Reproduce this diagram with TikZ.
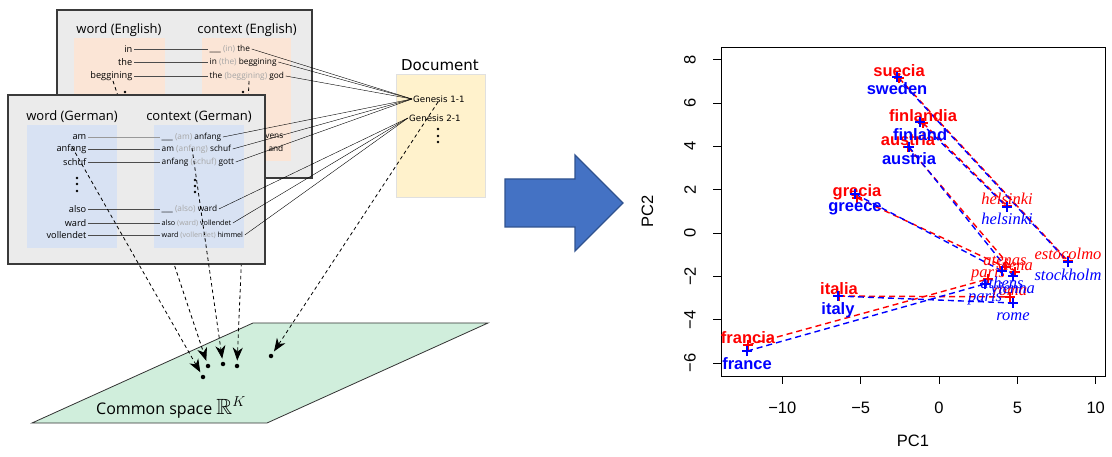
\documentclass[tikz,border=0pt]{standalone}
\usepackage{fontspec}
\usepackage{amssymb}
\usetikzlibrary{arrows.meta}
\newfontfamily\osans{Open Sans}
\newfontfamily\dvsans{DejaVu Sans}
\newfontfamily\lsans{Liberation Sans}
\newfontfamily\lserif{Liberation Serif}

\definecolor{boxgray}{HTML}{EBEBEB}
\definecolor{boxedge}{HTML}{3A3A3A}
\definecolor{engfill}{HTML}{FBE5D6}
\definecolor{gerfill}{HTML}{D8E2F3}
\definecolor{docfill}{HTML}{FFF2CC}
\definecolor{spacefill}{HTML}{D0EEDC}
\definecolor{ctxgray}{HTML}{A6A6A6}
\definecolor{arrowblue}{HTML}{4472C4}
\definecolor{arrowedge}{HTML}{2F528F}
\definecolor{rred}{HTML}{FF0000}
\definecolor{rblue}{HTML}{0000FF}

\newcommand\gry[1]{{\color{ctxgray}#1}}

\tikzset{
  panel/.style={draw=boxedge, line width=1.6pt, fill=boxgray},
  title/.style={font=\osans\fontsize{13}{15}\selectfont, inner sep=0pt},
  wordtxt/.style={font=\osans\fontsize{9.2}{11}\selectfont, anchor=east, inner sep=1.5pt},
  ctxtxt/.style={font=\osans\fontsize{8.3}{10}\selectfont, anchor=west, inner sep=1.5pt},
  ctxsmall/.style={ctxtxt, font=\osans\fontsize{7.2}{9}\selectfont},
  link/.style={draw=black!70, line width=0.7pt},
  doclink/.style={draw=black, line width=0.4pt},
  proj/.style={dash pattern=on 3.5pt off 3pt, line width=0.8pt,
    -{Stealth[length=13pt,width=10pt,inset=4pt]}, shorten >=3pt},
  vdot/.style={circle, fill=black, inner sep=0pt, minimum size=2.6pt},
  spot/.style={circle, fill=black, inner sep=0pt, minimum size=4.5pt},
  gentxt/.style={font=\dvsans\fontsize{8.7}{10}\selectfont, anchor=west, inner sep=1pt},
  ticklab/.style={font=\lsans\fontsize{16.5}{18}\selectfont, inner sep=0pt},
  redline/.style={draw=rred, line width=1.4pt, dash pattern=on 6pt off 4pt},
  blueline/.style={draw=rblue, line width=1.4pt, dash pattern=on 6pt off 4pt},
  redbold/.style={text=rred, font=\lsans\bfseries\fontsize{16.5}{18}\selectfont, anchor=base, inner sep=0pt},
  bluebold/.style={text=rblue, font=\lsans\bfseries\fontsize{16.5}{18}\selectfont, anchor=base, inner sep=0pt},
  redital/.style={text=rred, font=\lserif\itshape\fontsize{16.5}{18}\selectfont, anchor=base, inner sep=0pt},
  blueital/.style={text=rblue, font=\lserif\itshape\fontsize{16.5}{18}\selectfont, anchor=base, inner sep=0pt},
  pmark/.pic={\draw[line width=1.4pt] (-5pt,0pt) -- (5pt,0pt) (0pt,-5pt) -- (0pt,5pt);}
}

\begin{document}
\begin{tikzpicture}[x=1pt,y=-1pt]
\useasboundingbox (0,0) rectangle (1112,457);

% common embedding space
\draw[fill=spacefill, draw=black!80, line width=0.8pt]
  (32,423) -- (253,323) -- (488,323) -- (267,423) -- cycle;

% document box
\draw[fill=docfill, draw=black!12, line width=0.6pt] (396,74) rectangle (485,197);
\node[font=\dvsans\fontsize{15}{17}\selectfont] (doctitle) at (440,65) {Document};
\node[gentxt] (gen1) at (412,99) {Genesis 1-1};
\node[gentxt] (gen2) at (408,118) {Genesis 2-1};
\node[vdot] (dd1) at (438,129) {};
\node[vdot] (dd2) at (438,136) {};
\node[vdot] (dd3) at (438,142) {};

% ---------------- English corpus ----------------
\draw[panel] (57,10) rectangle (312,178);
\fill[engfill] (74,38) rectangle (165,161);
\fill[engfill] (202,38) rectangle (291,161);
\node[title] (etw) at (119,30) {word (English)};
\node[title] (etc) at (247,30) {context (English)};

\node[wordtxt] (ew1) at (134,49) {in};
\node[wordtxt] (ew2) at (134,62) {the};
\node[wordtxt] (ew3) at (134,76) {beggining};
\node[ctxtxt] (ec1) at (208,49) {\_\_\_ \gry{(in)} the};
\node[ctxtxt] (ec2) at (208,62) {in \gry{(the)} beggining};
\node[ctxtxt] (ec3) at (208,76) {the \gry{(beggining)} god};
\node[ctxtxt, anchor=east] (ec4) at (285,136) {and \gry{(the)} heavens};
\node[ctxtxt, anchor=east] (ec5) at (285,149) {the \gry{(heavens)} and};
\foreach \i in {1,2,3} \draw[link] (ew\i.east) -- (ec\i.west);

\node[vdot] (ewd1) at (125,92) {};
\node[vdot] (ewd2) at (125,98) {};
\node[vdot] (ecd1) at (243,92) {};
\node[vdot] (ecd2) at (243,98) {};

\foreach \i in {1,2,3} \draw[doclink] (ec\i.east) -- (gen1.west);

% projections hidden partly behind the German corpus
\coordinate (pe1) at (113,81);
\coordinate (pe2) at (249,81);
\node[spot] (s2) at (208,366) {};
\node[spot] (s4) at (237,366) {};
\draw[proj] (pe1) -- (s2);
\draw[proj] (pe2) -- (s4);

% ---------------- German corpus ----------------
\draw[panel] (8,95) rectangle (265,264);
\fill[gerfill] (27,125) rectangle (117,248);
\fill[gerfill] (154,125) rectangle (244,248);
\node[title] (gtw) at (72,117) {word (German)};
\node[title] (gtc) at (199,117) {context (German)};

\node[wordtxt] (gw1) at (88,137) {am};
\node[wordtxt] (gw2) at (88,149) {anfang};
\node[wordtxt] (gw3) at (88,162) {schuf};
\node[wordtxt] (gw4) at (88,209) {also};
\node[wordtxt] (gw5) at (88,223) {ward};
\node[wordtxt] (gw6) at (88,235) {vollendet};
\node[ctxtxt] (gc1) at (160,137) {\_\_\_ \gry{(am)} anfang};
\node[ctxtxt] (gc2) at (160,149) {am \gry{(anfang)} schuf};
\node[ctxtxt] (gc3) at (160,162) {anfang \gry{(schuf)} gott};
\node[ctxtxt] (gc4) at (160,209) {\_\_\_ \gry{(also)} ward};
\node[ctxsmall] (gc5) at (160,223) {also \gry{(ward)} vollendet};
\node[ctxsmall] (gc6) at (160,235) {ward \gry{(vollendet)} himmel};
\draw[link, draw=black!40] (gw1.east) -- (gc1.west);
\foreach \i in {2,...,6} \draw[link] (gw\i.east) -- (gc\i.west);

\node[vdot] (gwd1) at (77,178) {};
\node[vdot] (gwd2) at (77,184) {};
\node[vdot] (gwd3) at (77,191) {};
\node[vdot] (gcd1) at (195,180) {};
\node[vdot] (gcd2) at (195,186) {};
\node[vdot] (gcd3) at (195,192) {};

\foreach \i in {1,2,3} \draw[doclink] (gc\i.east) -- (gen1.west);
\foreach \i in {4,5,6} \draw[doclink] (gc\i.east) -- (gen2.west);

% remaining projections
\coordinate (pg1) at (72,147);
\coordinate (pg2) at (192,148);
\coordinate (pd) at (438,102);
\node[spot] (s1) at (203,377) {};
\node[spot] (s3) at (223,364) {};
\node[spot] (s5) at (271,356) {};
\draw[proj] (pg1) -- (s1);
\draw[proj] (pg2) -- (s3);
\draw[proj] (pd) -- (s5);

\node[font=\osans\fontsize{16}{18}\selectfont, anchor=base west, inner sep=0pt]
  (spacelab) at (96,414) {Common space {\fontsize{22}{24}\selectfont$\mathbb{R}^K$}};

% block arrow
\draw[fill=arrowblue, draw=arrowedge, line width=1.4pt, line join=miter]
  (505,179) -- (575,179) -- (575,155) -- (623,203) -- (575,251) -- (575,227) -- (505,227) -- cycle;

% ---------------- PCA plot ----------------
\begin{scope}[shift={(939,233)}, x=15.67pt, y=21.67pt]
  \draw[line width=0.9pt] (-13.91,-6.60) rectangle (10.6,8.58);
  \foreach \v/\t in {-10/−10,-5/−5,0/0,5/5,10/10} {
    \draw[line width=0.9pt] (\v,-6.60) -- ++(0pt,-8pt);
    \node[ticklab] at ([yshift=-32pt]\v,-6.60) {\t};
  }
  \foreach \v/\t in {-6/−6,-4/−4,-2/−2,0/0,2/2,4/4,6/6,8/8} {
    \draw[line width=0.9pt] (-13.91,\v) -- ++(-8pt,0pt);
    \node[ticklab, rotate=90] at ([xshift=-31pt]-13.91,\v) {\t};
  }
  \node[ticklab] (pc1) at (-1.66,-9.6) {PC1};
  \node[ticklab, rotate=90] (pc2) at (-18.6,1.0) {PC2};

  % Spanish words
  \foreach \n/\x/\y in {suecia/-2.55/7.15, finlandia/-1.02/5.08, austria/-1.98/3.97,
      grecia/-5.23/1.62, italia/-6.38/-2.91, francia/-12.19/-5.17,
      estocolmo/8.23/-1.29, helsinki/4.34/1.25, viena/4.85/-1.80,
      atenas/4.21/-1.57, roma/4.53/-2.95, paris/3.13/-2.12}
    \coordinate (r-\n) at (\x,\y);
  % English words
  \foreach \n/\x/\y in {sweden/-2.68/7.20, finland/-1.21/5.12, austria/-1.91/3.97,
      greece/-5.36/1.80, italy/-6.45/-2.91, france/-12.25/-5.45,
      stockholm/8.23/-1.34, helsinki/4.34/1.20, vienna/4.72/-1.98,
      athens/4.02/-1.75, rome/4.72/-3.23, paris/2.94/-2.35}
    \coordinate (b-\n) at (\x,\y);

  \foreach \a/\b in {suecia/estocolmo, finlandia/helsinki, austria/viena,
      grecia/atenas, italia/roma, francia/paris}
    \draw[redline] (r-\a) -- (r-\b);
  \foreach \a/\b in {sweden/stockholm, finland/helsinki, austria/vienna,
      greece/athens, italy/rome, france/paris}
    \draw[blueline] (b-\a) -- (b-\b);

  \foreach \n in {suecia,finlandia,austria,grecia,italia,francia,
      estocolmo,helsinki,viena,atenas,roma,paris}
    \pic[rred] at (r-\n) {pmark};
  \foreach \n in {suecia,finlandia,austria,grecia,italia,francia}
    \node[redbold] (lr-\n) at ([yshift=1.5pt]r-\n) {\n};
  \foreach \n in {estocolmo,helsinki,viena,atenas,roma,paris}
    \node[redital] (lr-\n) at ([yshift=1.5pt]r-\n) {\n};

  \foreach \n in {sweden,finland,austria,greece,italy,france,
      stockholm,helsinki,vienna,athens,rome,paris}
    \pic[rblue] at (b-\n) {pmark};
  \foreach \n in {sweden,finland,austria,greece,italy,france}
    \node[bluebold] (lb-\n) at ([yshift=-18pt]b-\n) {\n};
  \foreach \n in {stockholm,helsinki,vienna,athens,rome,paris}
    \node[blueital] (lb-\n) at ([yshift=-18pt]b-\n) {\n};
\end{scope}
\end{tikzpicture}
\end{document}
